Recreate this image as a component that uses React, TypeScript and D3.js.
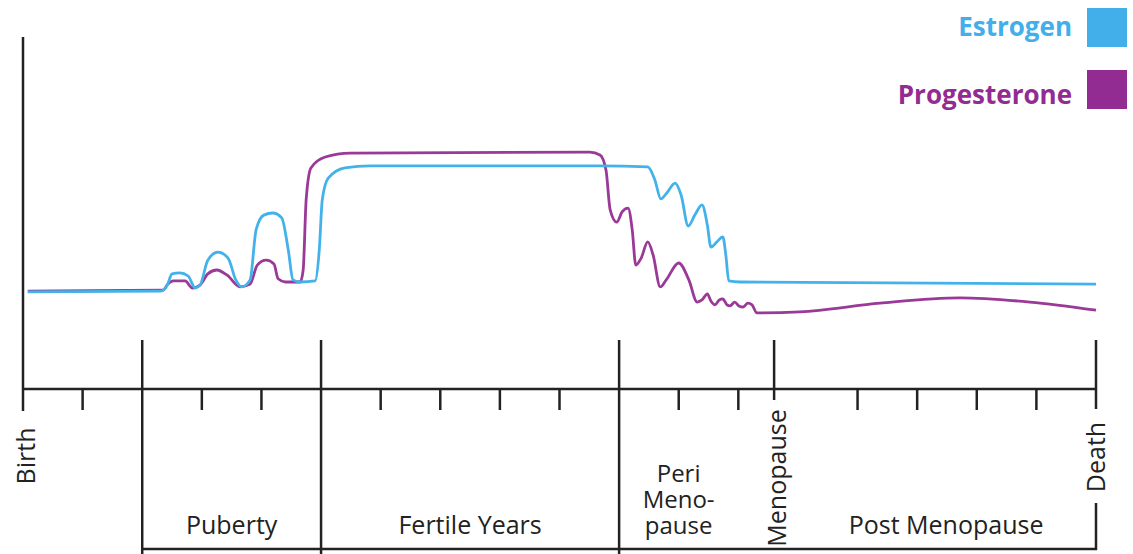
import React from "react";
import * as d3 from "d3";

// ---- data (x = life stage units, y = relative hormone level) ----
const estrogenAge = [0.08, 2.3, 2.42, 2.5, 2.63, 2.77, 2.89, 2.97, 3.1, 3.27, 3.44, 3.57, 3.67, 3.81, 3.91, 4.04, 4.19, 4.34, 4.45, 4.53, 4.65, 4.9, 4.97, 5.02, 5.12, 5.4, 5.82, 9.68, 10.48, 10.6, 10.7, 10.8, 10.94, 11.04, 11.16, 11.27, 11.39, 11.48, 11.54, 11.64, 11.74, 11.79, 11.84, 12.03, 18.0];
const estrogenLevel = [27.6, 27.8, 29.5, 32.7, 33.0, 32.1, 28.7, 29.5, 36.6, 38.9, 37.2, 31.0, 29.0, 31.0, 45.2, 49.4, 50.0, 48.6, 39.5, 31.0, 30.4, 30.7, 39.5, 53.7, 59.9, 62.8, 63.4, 63.4, 63.1, 59.4, 54.0, 55.7, 58.5, 55.1, 46.3, 49.4, 52.3, 46.6, 40.3, 41.8, 43.2, 38.1, 30.7, 30.4, 29.8];

const progesteroneAge = [0.08, 2.35, 2.43, 2.52, 2.72, 2.84, 2.97, 3.1, 3.25, 3.42, 3.64, 3.81, 3.93, 4.08, 4.21, 4.28, 4.4, 4.65, 4.7, 4.75, 4.83, 5.07, 5.49, 9.51, 9.68, 9.78, 9.85, 9.96, 10.05, 10.15, 10.22, 10.28, 10.37, 10.48, 10.57, 10.69, 10.79, 11.0, 11.17, 11.31, 11.39, 11.48, 11.54, 11.61, 11.68, 11.74, 11.81, 11.86, 11.94, 12.01, 12.08, 12.16, 12.23, 12.31, 13.03, 14.38, 15.72, 16.89, 18.0];
const progesteroneLevel = [27.8, 28.1, 29.8, 30.7, 30.7, 28.7, 29.5, 32.7, 33.8, 32.4, 29.0, 29.8, 35.2, 36.6, 35.5, 31.3, 30.4, 30.4, 33.8, 53.7, 62.8, 65.9, 67.0, 67.3, 66.5, 62.2, 50.9, 47.4, 50.3, 51.4, 45.2, 35.2, 37.2, 41.8, 38.1, 29.0, 31.0, 35.8, 31.0, 24.7, 25.3, 27.0, 25.0, 23.9, 25.3, 25.6, 23.9, 23.6, 24.7, 23.6, 23.3, 24.4, 23.9, 21.6, 21.9, 24.4, 25.9, 24.7, 22.4];

const minorTicks = [1, 3, 4, 6, 7, 8, 9, 11, 12, 14, 15, 16, 17];
const phaseBoundaries = [2, 5, 10];
const menopauseAt = 12.6;
const deathAt = 18;

const phaseLabels = ["Puberty", "Fertile Years", "Peri\nMeno-\npause", "Post Menopause"];
const phaseStarts = [2, 5, 10, 12.6];
const phaseEnds = [5, 10, 12.6, 18];

const seriesNames = ["Estrogen", "Progesterone"];
const lineColors = ["#44b2ea", "#9a3997"];
const swatchColors = ["#42afeb", "#932c92"];

export default function App() {
  const W = 1133, H = 554;
  const x = d3.scaleLinear().domain([0, deathAt]).range([23, 1096]);
  const y = d3.scaleLinear().domain([0, 100]).range([389, 37]);
  const axisY = y(0);
  const line = d3
    .line<[number, number]>()
    .x((d) => x(d[0]))
    .y((d) => y(d[1]))
    .curve(d3.curveMonotoneX);

  const eData = estrogenAge.map((a, i) => [a, estrogenLevel[i]] as [number, number]);
  const pData = progesteroneAge.map((a, i) => [a, progesteroneLevel[i]] as [number, number]);

  const ink = "#222";
  const font = "'Open Sans', 'Noto Sans', sans-serif";
  const sw = 2.5;
  const fs = 25;
  const bottomY = 549;

  return (
    <svg width={W} height={H} style={{ position: "fixed", left: 0, top: 0, background: "#fff" }}>
      {/* lines */}
      <path d={line(pData) || ""} fill="none" stroke={lineColors[1]} strokeWidth={2.8} strokeLinejoin="round" />
      <path d={line(eData) || ""} fill="none" stroke={lineColors[0]} strokeWidth={2.8} strokeLinejoin="round" />

      {/* y axis */}
      <line x1={x(0)} x2={x(0)} y1={37} y2={axisY + 22} stroke={ink} strokeWidth={sw} />
      {/* x axis */}
      <line x1={x(0)} x2={x(deathAt)} y1={axisY} y2={axisY} stroke={ink} strokeWidth={sw} />
      {minorTicks.map((t) => (
        <line key={t} x1={x(t)} x2={x(t)} y1={axisY} y2={axisY + 21} stroke={ink} strokeWidth={sw} />
      ))}
      {phaseBoundaries.map((t) => (
        <line key={t} x1={x(t)} x2={x(t)} y1={340} y2={H} stroke={ink} strokeWidth={sw} />
      ))}
      <line x1={x(menopauseAt)} x2={x(menopauseAt)} y1={340} y2={axisY + 11} stroke={ink} strokeWidth={sw} />
      <line x1={x(deathAt)} x2={x(deathAt)} y1={340} y2={axisY + 20} stroke={ink} strokeWidth={sw} />
      <line x1={x(deathAt)} x2={x(deathAt)} y1={503} y2={bottomY + 1} stroke={ink} strokeWidth={sw} />
      <line x1={x(2)} x2={x(deathAt) + 1} y1={bottomY} y2={bottomY} stroke={ink} strokeWidth={sw} />

      {/* rotated labels */}
      <text transform={`translate(${x(0) + 2},456) rotate(-90)`} textAnchor="middle" dominantBaseline="central" fontFamily={font} fontSize={fs} fill={ink}>Birth</text>
      <text transform={`translate(${x(menopauseAt) + 2},478) rotate(-90)`} textAnchor="middle" dominantBaseline="central" fontFamily={font} fontSize={fs} fill={ink}>Menopause</text>
      <text transform={`translate(${x(deathAt) - 1},457) rotate(-90)`} textAnchor="middle" dominantBaseline="central" fontFamily={font} fontSize={fs} fill={ink}>Death</text>

      {/* phase labels */}
      {phaseLabels.map((lab, i) => {
        const cx = (x(phaseStarts[i]) + x(phaseEnds[i])) / 2;
        const lines = lab.split("\n");
        const fsz = i === 2 ? 24 : fs;
        return (
          <text key={lab} textAnchor="middle" fontFamily={font} fontSize={fsz} fill={ink}>
            {lines.map((l, j) => (
              <tspan key={j} x={i === 2 ? cx - 18 : i === 3 ? cx + 11 : cx} y={534 - (lines.length - 1 - j) * 26}>{l}</tspan>
            ))}
          </text>
        );
      })}

      {/* legend */}
      {seriesNames.map((n, i) => (
        <g key={n}>
          <text x={1072} y={36 + i * 68} textAnchor="end" fontFamily={font} fontWeight={700} fontSize={26} fill={swatchColors[i]}>{n}</text>
          <rect x={1087} y={8 + i * 62} width={40} height={39} fill={swatchColors[i]} />
        </g>
      ))}
    </svg>
  );
}
